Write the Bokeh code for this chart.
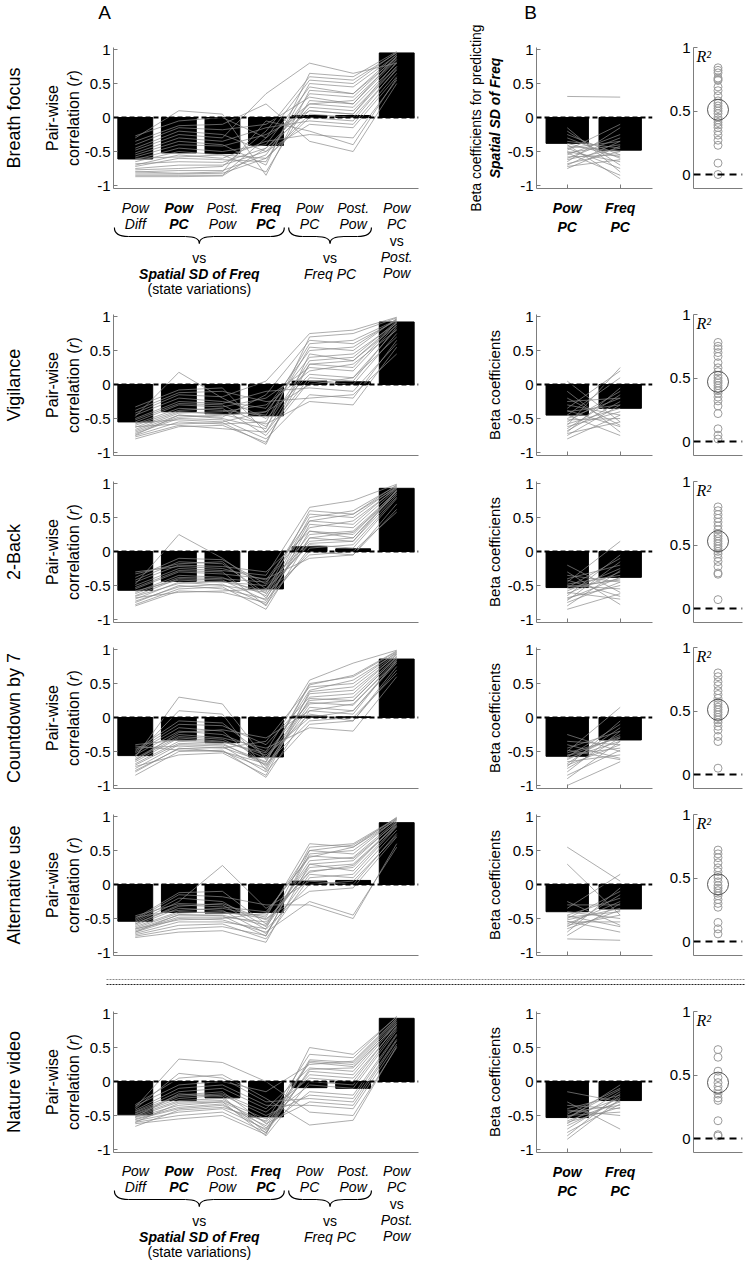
from bokeh.plotting import figure
from bokeh.layouts import column, row
from bokeh.models import Range1d, FixedTicker, LinearAxis, Label, Span, NumeralTickFormatter
from bokeh.embed import file_html
from bokeh.resources import INLINE
from bokeh.core.properties import value

# ---------------- data ----------------
conditions = ["Breath focus", "Vigilance", "2-Back", "Countdown by 7", "Alternative use", "Nature video"]
panel_letters = ["A", "B"]

corr_x = [1, 2, 3, 4, 5, 6, 7]
corr_label_lines = [["Pow", "Diff"], ["Pow", "PC"], ["Post.", "Pow"], ["Freq", "PC"],
                    ["Pow", "PC"], ["Post.", "Pow"], ["Pow", "PC", "vs", "Post.", "Pow"]]
corr_label_bold = [False, True, False, True, False, False, False]
corr_group_spans = [(1, 4), (5, 6)]
corr_group_texts = [["vs", "Spatial SD of Freq", "(state variations)"], ["vs", "Freq PC"]]

beta_x = [1, 2]
beta_labels = ["Pow\nPC", "Freq\nPC"]
r2_x = 1

corr_mean_breath = [-0.61, -0.52, -0.53, -0.41, 0.03, 0.03, 0.95]
corr_mean_vigil = [-0.55, -0.40, -0.43, -0.46, 0.05, 0.04, 0.92]
corr_mean_nback = [-0.57, -0.44, -0.44, -0.55, 0.07, 0.04, 0.93]
corr_mean_count = [-0.56, -0.33, -0.37, -0.58, 0.02, 0.01, 0.86]
corr_mean_altuse = [-0.54, -0.41, -0.42, -0.41, 0.05, 0.06, 0.91]
corr_mean_nature = [-0.49, -0.28, -0.24, -0.52, -0.09, -0.10, 0.93]

corr_subj_breath = [
    [-0.87, -0.87, -0.86, -0.45, 0.10, 0.05, 0.75], [-0.85, -0.85, -0.85, -0.30, 0.20, 0.15, 0.80],
    [-0.83, -0.83, -0.82, -0.60, 0.05, 0.00, 0.70], [-0.80, -0.78, -0.78, -0.55, 0.35, 0.30, 0.90],
    [-0.77, -0.75, -0.72, -0.20, 0.60, 0.55, 0.95], [-0.75, -0.70, -0.70, -0.50, -0.10, -0.15, 0.60],
    [-0.72, -0.60, -0.62, -0.65, 0.50, 0.45, 0.92], [-0.70, -0.55, -0.60, -0.35, -0.25, -0.30, 0.55],
    [-0.65, -0.50, -0.55, -0.80, 0.25, 0.20, 0.85], [-0.62, -0.45, -0.50, -0.40, 0.45, 0.35, 0.88],
    [-0.58, -0.40, -0.42, -0.25, 0.10, 0.05, 0.82], [-0.55, -0.35, -0.40, -0.70, 0.65, 0.60, 0.97],
    [-0.52, -0.30, -0.35, -0.15, -0.05, -0.10, 0.65], [-0.48, -0.25, -0.30, 0.35, 0.80, 0.65, 0.80],
    [-0.45, -0.20, -0.25, -0.50, 0.15, 0.10, 0.75], [-0.40, -0.15, -0.18, -0.10, 0.30, 0.20, 0.90],
    [-0.35, -0.12, -0.10, 0.20, -0.35, -0.50, 0.50], [-0.30, 0.10, 0.05, -0.85, 0.40, 0.35, 0.93],
    [-0.27, -0.05, 0.00, -0.30, 0.55, 0.50, 0.96], [-0.80, -0.82, -0.80, -0.05, -0.20, -0.40, 0.58],
    [-0.68, -0.65, -0.66, -0.45, 0.20, 0.25, 0.86], [-0.60, -0.58, -0.55, -0.60, 0.00, -0.05, 0.72],
]
corr_subj_vigil = [
    [-0.80, -0.62, -0.60, -0.85, 0.30, 0.25, 0.92], [-0.77, -0.60, -0.65, -0.70, 0.10, 0.05, 0.85],
    [-0.75, -0.55, -0.58, -0.55, 0.55, 0.50, 0.97], [-0.72, -0.50, -0.52, -0.80, -0.15, -0.20, 0.65],
    [-0.70, -0.48, -0.45, -0.40, 0.40, 0.45, 0.90], [-0.68, -0.45, -0.50, -0.65, 0.70, 0.75, 0.98],
    [-0.66, -0.42, -0.40, -0.30, 0.20, 0.30, 0.80], [-0.63, -0.40, -0.44, -0.58, -0.25, -0.30, 0.55],
    [-0.60, -0.38, -0.35, -0.75, 0.05, 0.00, 0.75], [-0.58, -0.35, -0.38, -0.45, 0.60, 0.65, 0.95],
    [-0.55, -0.30, -0.33, -0.20, 0.25, 0.20, 0.88], [-0.52, -0.28, -0.30, -0.62, 0.35, 0.40, 0.93],
    [-0.50, -0.25, -0.28, -0.10, -0.05, -0.10, 0.60], [-0.47, 0.18, -0.20, -0.50, 0.15, 0.10, 0.82],
    [-0.45, -0.20, -0.25, -0.35, 0.50, 0.55, 0.96], [-0.42, -0.15, -0.18, 0.05, 0.75, 0.80, 0.99],
    [-0.38, -0.12, -0.10, -0.25, -0.20, -0.15, 0.45], [-0.33, -0.08, -0.05, -0.70, 0.30, 0.35, 0.87],
    [-0.62, -0.58, -0.56, -0.88, 0.45, 0.35, 0.91], [-0.56, -0.52, -0.55, -0.40, 0.00, 0.10, 0.70],
    [-0.74, -0.45, -0.48, -0.15, 0.65, 0.60, 0.94],
]
corr_subj_nback = [
    [-0.78, -0.55, -0.52, -0.85, 0.20, 0.15, 0.90], [-0.75, -0.50, -0.55, -0.70, 0.45, 0.40, 0.95],
    [-0.73, -0.52, -0.48, -0.78, 0.05, 0.10, 0.80], [-0.70, -0.45, -0.50, -0.60, 0.60, 0.55, 0.98],
    [-0.68, -0.60, -0.58, -0.55, 0.25, 0.30, 0.88], [-0.65, -0.40, -0.42, -0.72, 0.00, -0.05, 0.70],
    [-0.62, -0.38, -0.40, -0.45, 0.35, 0.45, 0.93], [-0.60, -0.35, -0.38, -0.65, 0.50, 0.60, 0.97],
    [-0.58, -0.42, -0.45, -0.50, 0.15, 0.20, 0.86], [-0.55, -0.30, -0.33, -0.40, -0.10, -0.05, 0.62],
    [-0.53, -0.28, -0.30, -0.80, 0.40, 0.35, 0.92], [-0.50, -0.25, -0.28, -0.35, 0.65, 0.75, 0.99],
    [-0.48, 0.25, -0.10, -0.55, 0.10, 0.05, 0.78], [-0.45, -0.20, -0.22, -0.30, 0.30, 0.25, 0.90],
    [-0.42, -0.15, -0.18, -0.62, -0.05, 0.00, 0.58], [-0.38, -0.10, -0.12, -0.48, 0.55, 0.50, 0.96],
    [-0.33, -0.18, -0.15, -0.68, 0.20, 0.28, 0.85], [-0.30, -0.22, -0.25, -0.42, 0.45, 0.55, 0.94],
    [-0.80, -0.58, -0.60, -0.75, 0.30, 0.20, 0.89], [-0.66, -0.47, -0.44, -0.58, 0.12, 0.15, 0.83],
]
corr_subj_count = [
    [-0.85, -0.50, -0.48, -0.88, 0.10, 0.05, 0.85], [-0.80, -0.45, -0.50, -0.75, 0.35, 0.40, 0.92],
    [-0.75, -0.40, -0.42, -0.80, -0.10, -0.05, 0.70], [-0.70, -0.38, -0.40, -0.65, 0.50, 0.60, 0.97],
    [-0.68, -0.35, -0.38, -0.70, 0.20, 0.25, 0.88], [-0.65, -0.30, -0.35, -0.55, 0.00, 0.10, 0.80],
    [-0.62, -0.28, -0.32, -0.60, 0.40, 0.55, 0.95], [-0.60, -0.25, -0.30, -0.45, -0.15, -0.20, 0.60],
    [-0.58, 0.30, 0.20, -0.62, 0.25, 0.30, 0.90], [-0.55, -0.20, -0.25, -0.50, 0.55, 0.80, 0.99],
    [-0.52, -0.15, -0.20, -0.72, 0.15, 0.10, 0.83], [-0.50, -0.10, -0.12, -0.40, 0.30, 0.35, 0.93],
    [-0.48, -0.05, -0.08, -0.58, 0.05, -0.05, 0.75], [-0.45, -0.42, -0.45, -0.35, 0.45, 0.50, 0.96],
    [-0.42, -0.48, -0.50, -0.68, -0.05, 0.00, 0.65], [-0.40, -0.33, -0.36, -0.52, 0.22, 0.18, 0.86],
    [-0.72, -0.55, -0.52, -0.85, 0.38, 0.45, 0.94], [-0.63, -0.22, -0.18, -0.30, 0.10, 0.20, 0.82],
    [-0.56, 0.10, 0.05, -0.78, 0.28, 0.25, 0.89], [-0.78, -0.46, -0.44, -0.66, 0.48, 0.62, 0.98],
]
corr_subj_altuse = [
    [-0.78, -0.70, -0.68, -0.85, 0.30, 0.35, 0.92], [-0.76, -0.65, -0.62, -0.75, 0.45, 0.50, 0.96],
    [-0.74, -0.60, -0.58, -0.80, 0.10, 0.15, 0.85], [-0.72, -0.55, -0.55, -0.65, 0.55, 0.60, 0.98],
    [-0.70, -0.50, -0.52, -0.70, -0.25, -0.45, 0.55], [-0.68, -0.48, -0.48, -0.55, 0.20, 0.25, 0.90],
    [-0.66, -0.45, -0.45, -0.60, 0.35, 0.40, 0.94], [-0.64, -0.42, -0.40, -0.50, -0.10, -0.05, 0.70],
    [-0.62, -0.40, -0.42, -0.45, 0.50, 0.45, 0.97], [-0.60, -0.35, -0.38, -0.72, 0.15, 0.10, 0.80],
    [-0.58, -0.30, -0.33, -0.40, 0.40, 0.55, 0.95], [-0.56, -0.25, 0.28, -0.35, 0.05, 0.00, 0.75],
    [-0.54, -0.20, -0.25, -0.62, 0.25, 0.30, 0.88], [-0.52, -0.15, -0.18, -0.30, -0.30, -0.50, 0.60],
    [-0.50, -0.12, -0.10, -0.58, 0.30, 0.20, 0.86], [-0.48, -0.38, -0.35, -0.48, 0.60, 0.55, 0.99],
    [-0.46, -0.28, -0.30, -0.66, 0.00, 0.05, 0.72], [-0.65, -0.52, -0.50, -0.42, 0.42, 0.38, 0.91],
    [-0.58, -0.32, -0.28, -0.52, 0.18, 0.28, 0.87], [-0.70, -0.44, -0.46, -0.76, 0.50, 0.58, 0.97],
]
corr_subj_nature = [
    [-0.62, -0.55, -0.50, -0.78, 0.50, 0.40, 0.95], [-0.60, -0.50, -0.45, -0.75, 0.30, 0.25, 0.90],
    [-0.58, -0.45, -0.40, -0.70, 0.32, 0.28, 0.92], [-0.56, -0.40, -0.35, -0.65, 0.28, 0.22, 0.88],
    [-0.55, -0.38, -0.33, -0.72, 0.15, 0.10, 0.85], [-0.53, -0.35, -0.30, -0.60, 0.10, 0.05, 0.80],
    [-0.52, -0.30, -0.28, -0.55, -0.05, -0.10, 0.75], [-0.50, -0.28, -0.25, -0.68, -0.15, -0.20, 0.70],
    [-0.48, -0.25, -0.20, -0.50, -0.20, -0.25, 0.68], [-0.47, -0.22, -0.18, -0.45, 0.05, 0.00, 0.82],
    [-0.45, -0.20, -0.15, -0.62, -0.30, -0.35, 0.60], [-0.44, -0.15, -0.10, -0.40, 0.20, 0.15, 0.87],
    [-0.42, -0.10, -0.05, -0.35, -0.35, -0.40, 0.55], [-0.40, 0.12, 0.05, -0.30, -0.25, -0.30, 0.62],
    [-0.38, 0.33, 0.28, 0.00, -0.45, -0.50, 0.50], [-0.36, -0.05, 0.00, -0.15, 0.25, 0.30, 0.93],
    [-0.34, 0.05, 0.10, -0.25, -0.64, -0.57, 0.52], [-0.60, -0.32, -0.30, -0.80, 0.00, -0.05, 0.78],
    [-0.66, -0.42, -0.38, -0.58, 0.40, 0.35, 0.96], [-0.52, -0.18, -0.22, -0.76, 0.18, 0.20, 0.84],
]

beta_mean_breath = [-0.38, -0.48]
beta_mean_vigil = [-0.45, -0.35]
beta_mean_nback = [-0.53, -0.38]
beta_mean_count = [-0.57, -0.33]
beta_mean_altuse = [-0.40, -0.36]
beta_mean_nature = [-0.53, -0.28]

beta_subj_breath = [[0.31, 0.30], [-0.15, -0.80], [-0.20, -0.70], [-0.25, -0.55], [-0.30, -0.60],
                    [-0.35, -0.45], [-0.40, -0.90], [-0.42, -0.50], [-0.45, -0.35], [-0.50, -0.65],
                    [-0.52, -0.40], [-0.55, -0.25], [-0.58, -0.55], [-0.60, -0.30], [-0.62, -0.45],
                    [-0.65, -0.15], [-0.68, -0.50], [-0.70, -0.35], [-0.72, -0.62], [-0.75, -0.42],
                    [-0.45, -0.75], [-0.38, -0.58], [-0.52, -0.85], [-0.48, -0.10]]
beta_subj_vigil = [[0.05, -0.55], [-0.10, -0.70], [-0.20, -0.60], [-0.30, -0.45], [-0.35, 0.20],
                   [-0.40, -0.30], [-0.45, 0.10], [-0.50, -0.20], [-0.52, -0.50], [-0.55, -0.10],
                   [-0.58, -0.35], [-0.60, 0.25], [-0.62, -0.40], [-0.65, -0.15], [-0.68, -0.25],
                   [-0.70, -0.05], [-0.72, -0.55], [-0.75, -0.30], [-0.80, -0.45], [-0.45, -0.75],
                   [-0.38, -0.62], [-0.25, -0.20]]
beta_subj_nback = [[-0.20, -0.60], [-0.30, -0.78], [-0.35, -0.45], [-0.40, -0.20], [-0.45, 0.15],
                   [-0.48, -0.35], [-0.50, -0.55], [-0.53, -0.10], [-0.55, -0.40], [-0.58, -0.25],
                   [-0.60, -0.70], [-0.62, -0.30], [-0.65, -0.05], [-0.68, -0.50], [-0.70, -0.38],
                   [-0.72, -0.15], [-0.75, -0.45], [-0.80, -0.28], [-0.85, -0.62], [-0.42, -0.66],
                   [-0.52, -0.42]]
beta_subj_count = [[-0.25, -0.50], [-0.35, -0.40], [-0.40, -0.60], [-0.45, -0.20], [-0.50, 0.15],
                   [-0.52, -0.30], [-0.55, -0.45], [-0.58, -0.10], [-0.60, -0.35], [-0.62, -0.25],
                   [-0.65, -0.55], [-0.68, -0.15], [-0.70, -0.40], [-0.72, -0.05], [-0.75, -0.30],
                   [-0.80, -0.20], [-0.85, -0.48], [-0.90, -0.35], [-1.00, -0.65], [-0.48, -0.62],
                   [-0.56, -0.28]]
beta_subj_altuse = [[0.55, 0.05], [0.30, -0.45], [-0.25, -0.60], [-0.30, -0.30], [-0.35, 0.15],
                    [-0.40, -0.50], [-0.45, -0.20], [-0.48, -0.40], [-0.50, -0.10], [-0.52, -0.35],
                    [-0.55, -0.55], [-0.58, -0.25], [-0.60, -0.45], [-0.62, -0.15], [-0.65, -0.38],
                    [-0.70, -0.05], [-0.75, -0.28], [-0.80, -0.82], [-0.46, -0.62], [-0.54, -0.70]]
beta_subj_nature = [[-0.15, -0.30], [-0.30, -0.70], [-0.35, -0.40], [-0.40, -0.20], [-0.45, -0.35],
                    [-0.48, -0.10], [-0.50, -0.45], [-0.52, -0.25], [-0.55, -0.05], [-0.58, -0.30],
                    [-0.60, -0.38], [-0.62, -0.15], [-0.65, -0.28], [-0.70, -0.22], [-0.75, -0.33],
                    [-0.80, -0.18], [-0.85, -0.26], [-0.42, -0.50], [-0.53, -0.12]]

r2_mean_breath = 0.51
r2_mean_vigil = 0.47
r2_mean_nback = 0.53
r2_mean_count = 0.51
r2_mean_altuse = 0.45
r2_mean_nature = 0.44

r2_subj_breath = [0.84, 0.82, 0.80, 0.76, 0.75, 0.74, 0.69, 0.66, 0.62, 0.58, 0.56, 0.54, 0.52,
                  0.50, 0.48, 0.45, 0.43, 0.41, 0.39, 0.37, 0.34, 0.31, 0.27, 0.23, 0.09, 0.00]
r2_subj_vigil = [0.78, 0.75, 0.73, 0.70, 0.67, 0.62, 0.58, 0.55, 0.52, 0.50, 0.48, 0.46, 0.44,
                 0.42, 0.40, 0.38, 0.35, 0.32, 0.28, 0.22, 0.10, 0.05, 0.02]
r2_subj_nback = [0.80, 0.77, 0.74, 0.71, 0.68, 0.65, 0.62, 0.59, 0.57, 0.55, 0.53, 0.51, 0.49,
                 0.47, 0.45, 0.43, 0.40, 0.37, 0.33, 0.28, 0.27, 0.07]
r2_subj_count = [0.80, 0.77, 0.73, 0.70, 0.66, 0.63, 0.60, 0.57, 0.55, 0.53, 0.51, 0.49, 0.47,
                 0.45, 0.43, 0.41, 0.38, 0.35, 0.30, 0.26, 0.05]
r2_subj_altuse = [0.72, 0.69, 0.66, 0.62, 0.58, 0.55, 0.52, 0.50, 0.47, 0.44, 0.42, 0.40, 0.38,
                  0.36, 0.33, 0.30, 0.27, 0.15, 0.10, 0.06]
r2_subj_nature = [0.70, 0.64, 0.53, 0.48, 0.44, 0.41, 0.38, 0.35, 0.32, 0.30, 0.14, 0.03, 0.02]

corr_means = [corr_mean_breath, corr_mean_vigil, corr_mean_nback, corr_mean_count, corr_mean_altuse, corr_mean_nature]
corr_subjects = [corr_subj_breath, corr_subj_vigil, corr_subj_nback, corr_subj_count, corr_subj_altuse, corr_subj_nature]
beta_means = [beta_mean_breath, beta_mean_vigil, beta_mean_nback, beta_mean_count, beta_mean_altuse, beta_mean_nature]
beta_subjects = [beta_subj_breath, beta_subj_vigil, beta_subj_nback, beta_subj_count, beta_subj_altuse, beta_subj_nature]
r2_means = [r2_mean_breath, r2_mean_vigil, r2_mean_nback, r2_mean_count, r2_mean_altuse, r2_mean_nature]
r2_subjects = [r2_subj_breath, r2_subj_vigil, r2_subj_nback, r2_subj_count, r2_subj_altuse, r2_subj_nature]

# ---------------- layout / style ----------------
FONT = "Liberation Sans"
AX_COL = "#7d7d7d"
LINE_COL = "#8a8a8a"
WA, WB, WR = 425, 235, 85
LA, RA = 113, 7
LB, RB = 111, 8
LR, RR = 33, 3
A_XR = (0.5, 7.5)
B_XR = (0.42, 2.61)
R_XR = (0.5, 1.5)
A_YR = (-1.044, 1.03)
R_YR = (-0.11, 1.0)
FR_H = 141
HEADER_H = 24

frame_tops = [47, 314, 481, 647, 814, 1011]
a_extent = [(HEADER_H, 195), (300, 468), (468, 635), (635, 801), (801, 962), (1000, 1157)]
br_extent = [(HEADER_H, 300), (300, 468), (468, 635), (635, 801), (801, 962), (1000, 1262)]


def base_fig(w, h, l, r, t, b, xr, yr):
    p = figure(width=w, height=h, x_range=Range1d(*xr), y_range=Range1d(*yr),
               output_backend="svg", toolbar_location=None, title=None,
               min_border_left=l, min_border_right=r, min_border_top=t, min_border_bottom=b)
    p.xgrid.visible = False
    p.ygrid.visible = False
    p.outline_line_color = None
    return p


def canvas_fig(w, h):
    p = figure(width=w, height=h, x_range=Range1d(0, w), y_range=Range1d(h, 0),
               output_backend="svg", toolbar_location=None, title=None, min_border=0,
               x_axis_location=None, y_axis_location=None)
    p.xgrid.visible = False
    p.ygrid.visible = False
    p.outline_line_color = None
    return p


def style_yaxis(ax, ticks):
    ax.ticker = FixedTicker(ticks=ticks)
    ax.formatter = NumeralTickFormatter(format="0.[0]")
    ax.axis_line_color = AX_COL
    ax.major_tick_line_color = AX_COL
    ax.major_tick_in = 4
    ax.major_tick_out = 0
    ax.minor_tick_line_color = None
    ax.major_label_text_font = FONT
    ax.major_label_text_font_size = "15px"
    ax.major_label_text_color = "black"
    ax.major_label_standoff = 3
    ax.axis_label_text_font = FONT
    ax.axis_label_text_font_size = "16px"
    ax.axis_label_text_font_style = "normal"
    ax.axis_label_text_color = "black"
    ax.axis_label_standoff = 0


def style_xaxis(ax, ticks, tick_len):
    ax.ticker = FixedTicker(ticks=ticks)
    ax.axis_line_color = AX_COL
    ax.major_tick_line_color = AX_COL
    ax.major_tick_in = tick_len
    ax.major_tick_out = 0
    ax.minor_tick_line_color = None
    ax.major_label_standoff = 0
    ax.major_label_overrides = {t: "" for t in ticks}


def label_axis(text, size, style, standoff):
    return LinearAxis(ticker=FixedTicker(ticks=[]), axis_line_color=None,
                      major_tick_line_color=None, minor_tick_line_color=None,
                      major_tick_in=0, major_tick_out=0, major_label_standoff=0,
                      axis_label=text, axis_label_standoff=standoff,
                      axis_label_text_font=FONT, axis_label_text_font_size=size,
                      axis_label_text_font_style=style, axis_label_text_color="black")


def zero_line(p, dash):
    p.add_layout(Span(location=0, dimension="width", line_color="black", line_width=2, line_dash=dash))


def corr_panel(i):
    top, bot = a_extent[i]
    ft = frame_tops[i]
    fb = ft + FR_H
    p = base_fig(WA, bot - top, LA, RA, ft - top, bot - fb, A_XR, A_YR)
    p.vbar(x=corr_x, top=corr_means[i], bottom=0, width=0.8, fill_color="black", line_color="black")
    subj = corr_subjects[i]
    p.multi_line(xs=[corr_x] * len(subj), ys=subj, line_color=LINE_COL, line_width=0.7)
    zero_line(p, "5 3")
    style_yaxis(p.yaxis[0], [-1, -0.5, 0, 0.5, 1])
    p.yaxis[0].axis_label = "Pair-wise\ncorrelation (𝑟)"
    style_xaxis(p.xaxis[0], [], 0)
    p.add_layout(label_axis(conditions[i], "18px", "normal", 18), "left")
    return p


def beta_panel(i):
    top, bot = br_extent[i]
    ft = frame_tops[i]
    fb = ft + FR_H
    p = base_fig(WB, bot - top, LB, RB, ft - top, bot - fb, B_XR, A_YR)
    p.vbar(x=beta_x, top=beta_means[i], bottom=0, width=0.8, fill_color="black", line_color="black")
    subj = beta_subjects[i]
    p.multi_line(xs=[beta_x] * len(subj), ys=subj, line_color=LINE_COL, line_width=0.7)
    zero_line(p, "5 3")
    style_yaxis(p.yaxis[0], [-1, -0.5, 0, 0.5, 1])
    p.yaxis[0].axis_label_text_font_size = "15px"
    p.yaxis[0].axis_label_standoff = 2
    style_xaxis(p.xaxis[0], beta_x, 4)
    if i in (0, 5):
        ax = p.xaxis[0]
        ax.major_label_overrides = {k: v for k, v in zip(beta_x, beta_labels)}
        ax.major_label_text_font = FONT
        ax.major_label_text_font_size = "14px"
        ax.major_label_text_font_style = "bold italic"
        ax.major_label_text_color = "black"
        ax.major_label_standoff = 11
    if i == 0:
        p.yaxis[0].axis_label = "Spatial SD of Freq"
        p.yaxis[0].axis_label_text_font_size = "14px"
        p.yaxis[0].axis_label_text_font_style = "bold italic"
        p.add_layout(label_axis("Beta coefficients for predicting", "14px", "normal", 0), "left")
    else:
        p.yaxis[0].axis_label = "Beta coefficients"
    return p


def r2_panel(i):
    top, bot = br_extent[i]
    ft = frame_tops[i]
    fb = ft + FR_H
    p = base_fig(WR, bot - top, LR, RR, ft - top, bot - fb, R_XR, R_YR)
    vals = r2_subjects[i]
    p.scatter(x=[r2_x] * len(vals), y=vals, size=8, marker="circle", fill_color=None,
              line_color="#9b9b9b", line_width=1)
    p.scatter(x=[r2_x], y=[r2_means[i]], size=21, marker="circle", fill_color=None,
              line_color="#555555", line_width=1)
    zero_line(p, "7 5")
    style_yaxis(p.yaxis[0], [0, 0.5, 1])
    style_xaxis(p.xaxis[0], [], 0)
    p.add_layout(Label(x=0.56, y=0.995, text="R²", text_align="left", text_baseline="top",
                       text_font="Liberation Serif", text_font_style="italic",
                       text_font_size="16px", text_color="black"))
    return p


def corr_label_fig(h, dy):
    p = figure(width=WA, height=h, x_range=Range1d(*A_XR), y_range=Range1d(h, 0),
               output_backend="svg", toolbar_location=None, title=None,
               min_border_left=LA, min_border_right=RA, min_border_top=0, min_border_bottom=0,
               x_axis_location=None, y_axis_location=None)
    p.xgrid.visible = False
    p.ygrid.visible = False
    p.outline_line_color = None
    line_y = [12, 28, 45, 61, 77]
    styles = {"italic": ([], [], []), "bold italic": ([], [], []), "normal": ([], [], [])}
    for xi, lines, bold in zip(corr_x, corr_label_lines, corr_label_bold):
        for j, t in enumerate(lines):
            st = "normal" if t == "vs" else ("bold italic" if bold else "italic")
            styles[st][0].append(xi)
            styles[st][1].append(line_y[j] + dy)
            styles[st][2].append(t)
    group_y = [62, 78, 93]
    group_styles = [["normal", "bold italic", "normal"], ["normal", "italic"]]
    xs0, ys0, xs1, ys1 = [], [], [], []
    qx0, qy0, qx1, qy1, qcx, qcy = [], [], [], [], [], []
    for (s, e), texts, gst in zip(corr_group_spans, corr_group_texts, group_styles):
        xa, xb = s - 0.48, e + 0.42
        xc = (xa + xb) / 2
        q = 0.32
        yt, yf, yp = 32 + dy, 41 + dy, 48 + dy
        for a0, b0, a1, b1, c0, c1 in [(xa, yt, xa + q, yf, xa, yf), (xc - q, yf, xc, yp, xc, yf),
                                       (xc, yp, xc + q, yf, xc, yf), (xb - q, yf, xb, yt, xb, yf)]:
            qx0.append(a0); qy0.append(b0); qx1.append(a1); qy1.append(b1); qcx.append(c0); qcy.append(c1)
        xs0 += [xa + q, xc + q]; ys0 += [yf, yf]; xs1 += [xc - q, xb - q]; ys1 += [yf, yf]
        for j, (t, st) in enumerate(zip(texts, gst)):
            styles[st][0].append(xc)
            styles[st][1].append(group_y[j] + dy)
            styles[st][2].append(t)
    p.quadratic(x0=qx0, y0=qy0, x1=qx1, y1=qy1, cx=qcx, cy=qcy, line_color="black", line_width=1.2)
    p.segment(x0=xs0, y0=ys0, x1=xs1, y1=ys1, line_color="black", line_width=1.2)
    for st, (xx, yy, tt) in styles.items():
        if xx:
            p.text(x=xx, y=yy, text=tt, text_font=value(FONT), text_font_size="14px",
                   text_font_style=st, text_align="center", text_baseline="middle", text_color="black")
    return p


def header_fig():
    p = canvas_fig(WA + WB + WR, HEADER_H)
    p.text(x=[104, WA + LB - 6], y=[12, 12], text=panel_letters, text_font=value(FONT),
           text_font_size="19px", text_align="center", text_baseline="middle", text_color="black")
    return p


def separator_fig():
    w = WA + WB + WR
    p = canvas_fig(w, 38)
    p.segment(x0=[106, 106], y0=[17, 22], x1=[w, w], y1=[17, 22],
              line_color=["#8a8a8a", "#222222"], line_width=1, line_dash="2 1")
    return p


rows = [header_fig()]
for i in range(6):
    A = corr_panel(i)
    B = beta_panel(i)
    R = r2_panel(i)
    if i == 0:
        rows.append(row(column(A, corr_label_fig(105, 0)), B, R))
    elif i == 5:
        rows.append(separator_fig())
        rows.append(row(column(A, corr_label_fig(105, 1)), B, R))
    else:
        rows.append(row(A, B, R))

layout = column(*rows)
open("out.html", "w").write(file_html(layout, INLINE, title="Pair-wise correlations"))
